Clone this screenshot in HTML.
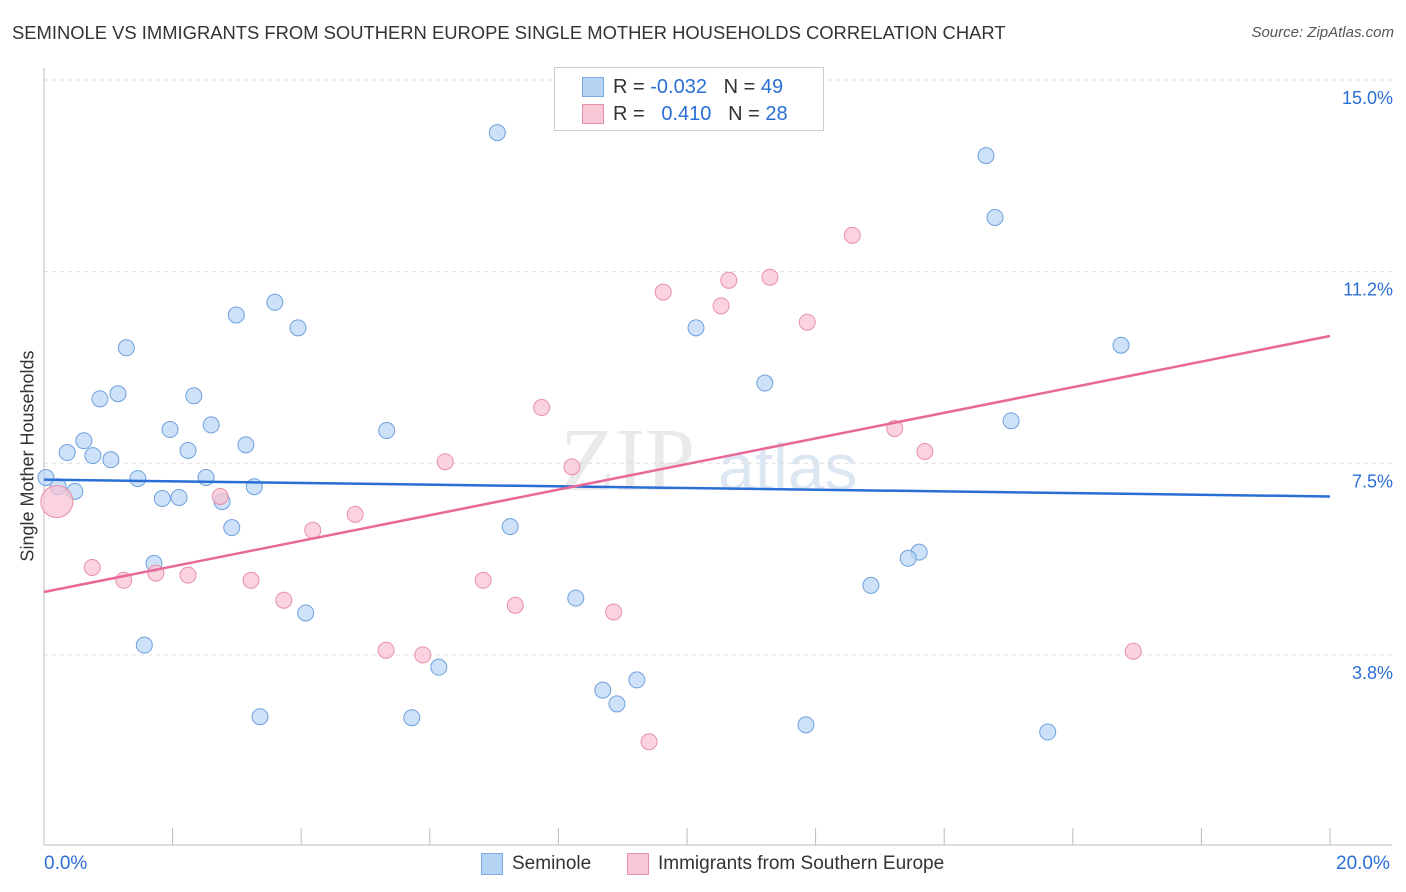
<!DOCTYPE html>
<html><head><meta charset="utf-8"><style>
body{margin:0;background:#fff;font-family:"Liberation Sans",sans-serif;}
#wrap{position:relative;width:1406px;height:892px;overflow:hidden;}
.t{position:absolute;white-space:nowrap;}
</style></head><body>
<div id="wrap">
<div class="t" style="left:12px;top:22px;font-size:18.4px;color:#333;">SEMINOLE VS IMMIGRANTS FROM SOUTHERN EUROPE SINGLE MOTHER HOUSEHOLDS CORRELATION CHART</div>
<div class="t" style="right:12px;top:24px;font-size:15px;color:#555;font-style:italic;">Source: ZipAtlas.com</div>
<svg id="svg" width="1406" height="892" style="position:absolute;left:0;top:0">
<text x="560" y="490" font-size="90" font-family="Liberation Serif,serif" fill="#ddd" opacity="0.6">ZIP</text>
<text x="718" y="490" font-size="66" fill="#c8d8ee" opacity="0.6">atlas</text>
<g id="grid"></g><g id="pts"></g><g id="lines"></g>
</svg>
<div class="t" style="left:28px;top:456px;font-size:18px;color:#333;transform:translate(-50%,-50%) rotate(-90deg);">Single Mother Households</div>
<div style="position:absolute;left:554px;top:67px;width:268px;height:62px;border:1px solid #ccc;background:#fff;font-size:20px;">
 <div style="position:absolute;left:27px;top:9px;width:20px;height:18px;background:#b8d4f5;border:1px solid #7aaae0"></div>
 <div class="t" style="left:58px;top:8px;color:#333">R = <span style="color:#2a6fd6">-0.032</span>&nbsp;&nbsp;&nbsp;N = <span style="color:#2a6fd6">49</span></div>
 <div style="position:absolute;left:27px;top:36px;width:20px;height:18px;background:#f8c8d6;border:1px solid #e890a8"></div>
 <div class="t" style="left:58px;top:35px;color:#333">R = &nbsp;&nbsp;<span style="color:#2a6fd6">0.410</span>&nbsp;&nbsp;&nbsp;N = <span style="color:#2a6fd6">28</span></div>
</div>
<div class="t" style="left:44px;top:853px;font-size:19px;color:#2a6fd6">0.0%</div>
<div class="t" style="left:1336px;top:853px;font-size:19px;color:#2a6fd6">20.0%</div>
<div style="position:absolute;left:481px;top:853px;width:20px;height:20px;background:#b8d4f5;border:1px solid #7aaae0"></div>
<div class="t" style="left:512px;top:853px;font-size:19px;color:#333">Seminole</div>
<div style="position:absolute;left:627px;top:853px;width:20px;height:20px;background:#f8c8d6;border:1px solid #e890a8"></div>
<div class="t" style="left:658px;top:853px;font-size:19px;color:#333">Immigrants from Southern Europe</div>
</div>
<script>
const yTicks=[15,11.25,7.5,3.75];
const yTickLabels=["15.0%","11.2%","7.5%","3.8%"];
const seminoleX=[7.05,14.65,14.79,2.99,3.59,3.95,1.28,10.14,16.75,11.21,0.87,1.15,2.33,1.96,2.60,5.33,0.62,0.36,0.76,1.04,2.24,3.14,15.04,0.03,0.22,0.48,1.46,2.52,3.27,1.84,2.10,2.77,2.92,7.25,1.71,13.61,13.44,12.86,8.27,4.07,1.56,6.14,9.22,8.69,8.91,3.36,5.72,11.85,15.61];
const seminoleY=[13.97,13.52,12.31,10.40,10.65,10.15,9.76,10.15,9.81,9.07,8.76,8.86,8.82,8.16,8.25,8.14,7.94,7.71,7.65,7.57,7.75,7.86,8.33,7.22,7.04,6.95,7.20,7.22,7.04,6.81,6.83,6.75,6.24,6.26,5.54,5.76,5.64,5.11,4.86,4.57,3.94,3.51,3.26,3.06,2.79,2.54,2.52,2.38,2.24];
const immX=[0.20,12.57,11.29,10.65,9.63,10.53,11.87,7.74,13.23,13.70,6.24,8.21,2.74,4.84,4.18,0.75,1.24,1.74,2.24,3.22,3.73,6.83,7.33,8.86,5.32,5.89,16.94,9.41];
const immY=[6.75,11.96,11.14,11.08,10.85,10.58,10.26,8.59,8.18,7.73,7.53,7.43,6.85,6.50,6.19,5.46,5.21,5.35,5.31,5.21,4.82,5.21,4.72,4.59,3.84,3.75,3.82,2.05];
const seminoleTrend=[7.18,6.85];
const immTrend=[4.98,9.99];
const X=v=>44+v*64.3, Y=v=>846.5-v*51.1;
const NS="http://www.w3.org/2000/svg";
function mk(tag,at,parent){const e=document.createElementNS(NS,tag);for(const k in at)e.setAttribute(k,at[k]);document.getElementById(parent).appendChild(e);return e;}
yTicks.forEach((v,i)=>{
 const l=mk('line',{x1:44,x2:1392,y1:Y(v),y2:Y(v),stroke:'#ddd','stroke-dasharray':'4,4'},'grid');
 
 
 const t=mk('text',{x:1393,y:Y(v)+24,'text-anchor':'end','font-size':18,fill:'#2a6fd6'},'grid');
 t.textContent=yTickLabels[i];
 
 
});
const ax=mk('line',{x1:44,x2:1392,y1:845,y2:845,stroke:'#bbb'},'grid');


const ay=mk('line',{x1:44,x2:44,y1:68,y2:845,stroke:'#bbb'},'grid');


for(let i=0;i<=10;i++){const tk=mk('line',{x1:X(i*2),x2:X(i*2),y1:828,y2:845,stroke:'#bbb'},'grid');
 
 }
seminoleX.forEach((v,i)=>{const c=mk('circle',{cx:X(v),cy:Y(seminoleY[i]),r:8,fill:'rgba(184,212,245,0.7)',stroke:'#6fa0dc','stroke-width':1},'pts');
 
 });
immX.forEach((v,i)=>{const c=mk('circle',{cx:X(v),cy:Y(immY[i]),r:i==0?16:8,fill:'rgba(248,192,210,0.7)',stroke:'#e890a8','stroke-width':1},'pts');
 
 });
const l1=mk('line',{x1:X(0),y1:Y(seminoleTrend[0]),x2:X(20),y2:Y(seminoleTrend[1]),stroke:'#2a6fd6','stroke-width':2.5},'lines');


const l2=mk('line',{x1:X(0),y1:Y(immTrend[0]),x2:X(20),y2:Y(immTrend[1]),stroke:'#e8689a','stroke-width':2.5},'lines');


</script>
</body></html>
